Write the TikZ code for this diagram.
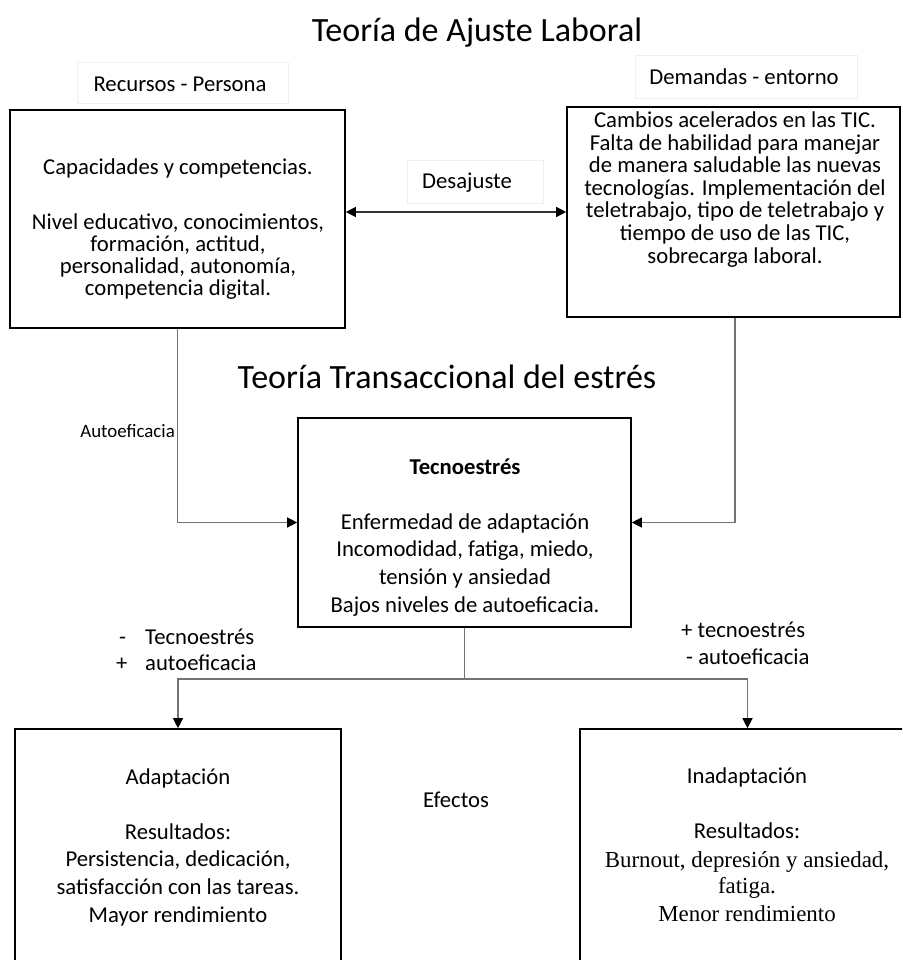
\documentclass[tikz,border=0pt]{standalone}
\usepackage{fontspec}
\setmainfont{Carlito}
\newfontfamily\timesfont{Liberation Serif}
\usetikzlibrary{arrows.meta}

\begin{document}
\begin{tikzpicture}[x=1pt,y=-1pt,
  box/.style={draw=black, line width=1.6pt, inner sep=0pt, fill=white},
  frame/.style={draw=black!6, line width=0.6pt, inner sep=0pt},
  txt/.style={inner sep=0pt, anchor=base, align=center,
    font=\fontsize{22.7pt}{27.6pt}\selectfont},
  tight/.style={font=\fontsize{22.7pt}{21.7pt}\selectfont},
  title/.style={inner sep=0pt, anchor=base, font=\fontsize{34pt}{40pt}\selectfont},
  small/.style={inner sep=0pt, anchor=base east, font=\fontsize{18.9pt}{22pt}\selectfont},
  link/.style={draw=black!55, line width=1.2pt},
  tip/.style={-{Triangle[length=10pt,width=10pt,color=black]}}
]
\clip (0,0) rectangle (902,960);
\fill[white] (0,0) rectangle (902,960);

% headings
\node[title] (t1) at (477,42) {Teoría de Ajuste Laboral};
\node[title] (t2) at (447,388) {Teoría Transaccional del estrés};

% light label frames
\node[frame, minimum width=211pt, minimum height=41pt] (fr1) at (182.5,82.5) {};
\node[frame, minimum width=222pt, minimum height=43pt] (fr2) at (746,76.5) {};
\node[frame, minimum width=136pt, minimum height=43pt] (fr3) at (475,181.5) {};
\node[txt] (l1) at (180,92) {Recursos - Persona};
\node[txt] (l2) at (744,85) {Demandas - entorno};
\node[txt] (l3) at (467,188) {Desajuste};

% main boxes
\node[box, minimum width=335pt, minimum height=218pt] (rec) at (177.5,219) {};
\node[box, minimum width=333pt, minimum height=210pt] (dem) at (733.5,212) {};
\node[box, minimum width=333pt, minimum height=209pt] (tec) at (464.5,522.5) {};
\node[box, minimum width=326pt, minimum height=251pt] (ada) at (178,854.5) {};
\node[box, minimum width=335pt, minimum height=251pt] (ina) at (747.5,854.5) {};

% box texts (placed by the baseline of their last line)
\node[txt, tight] (rect) at (178,295) {Capacidades y competencias.\\[33.3pt]
  Nivel educativo, conocimientos,\\ formación, actitud,\\
  personalidad, autonomía,\\ competencia digital.};
\node[txt, font=\fontsize{22.7pt}{22.6pt}\selectfont] (demt) at (735,263) {Cambios acelerados en las TIC.\\
  Falta de habilidad para manejar\\ de manera saludable las nuevas\\
  tecnologías. Implementación del\\ teletrabajo, tipo de teletrabajo y\\
  tiempo de uso de las TIC,\\ sobrecarga laboral.};
\node[txt] (tect) at (465,612) {\textbf{Tecnoestrés}\\[27.3pt]
  Enfermedad de adaptación\\ Incomodidad, fatiga, miedo,\\
  tensión y ansiedad\\ Bajos niveles de autoeficacia.};
\node[txt] (adat) at (178,922) {Adaptación\\[27.5pt] Resultados:\\
  Persistencia, dedicación,\\ satisfacción con las tareas.\\ Mayor rendimiento};
\node[txt] (inat) at (747,921) {Inadaptación\\[27.5pt] Resultados:\\[1pt]
  {\timesfont\fontsize{22.9pt}{26.5pt}\selectfont Burnout, depresión y ansiedad,}\\[-1pt]
  {\timesfont\fontsize{22.9pt}{26.5pt}\selectfont fatiga.}\\[-0.5pt]
  {\timesfont\fontsize{22.9pt}{26.5pt}\selectfont Menor rendimiento}};

% side labels
\node[small] (auto) at (175,437) {Autoeficacia};
\node[txt, anchor=base west] (m1) at (119,644) {-};
\node[txt, anchor=base west] (m2) at (145,644) {Tecnoestrés};
\node[txt, anchor=base west] (p1) at (116,670) {+};
\node[txt, anchor=base west] (p2) at (145,670) {autoeficacia};
\node[txt, anchor=base west] (p3) at (681,637) {+ tecnoestrés};
\node[txt, anchor=base west] (m3) at (686,664) {- autoeficacia};
\node[txt, anchor=base west] (efe) at (423,807) {Efectos};

% connectors
\draw[link, draw=black!80, {Triangle[length=10pt,width=10pt,color=black]}-{Triangle[length=10pt,width=10pt,color=black]}]
  (rec.east |- dem.west) -- (dem.west);
\draw[link, tip] (rec.south) |- (tec.west);
\draw[link, tip] (dem.south -| 735,0) |- (tec.east);
\coordinate (split) at (tec.south |- 0,679);
\draw[link] (tec.south) -- (split);
\draw[link, tip] (split) -| (ada.north);
\draw[link, tip] (split) -| (ina.north);
\end{tikzpicture}
\end{document}
